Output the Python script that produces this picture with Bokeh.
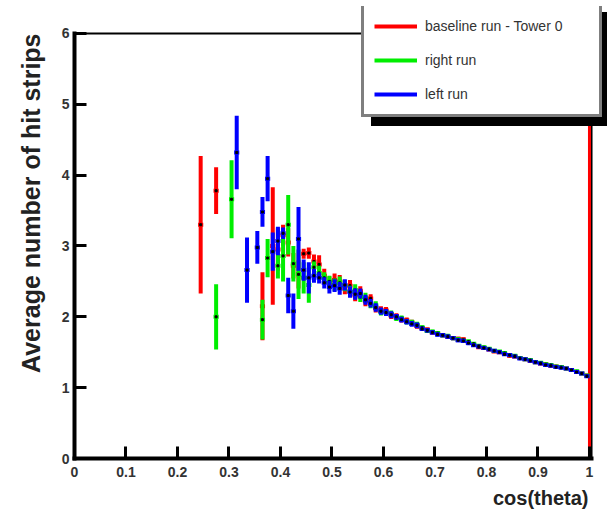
from bokeh.plotting import figure
from bokeh.models import Range1d, Legend, LegendItem, Title, ColumnDataSource
from bokeh.embed import file_html
from bokeh.resources import INLINE

# ---------------- data ----------------
bin_width = 0.01

red_head_x = [0.245, 0.275, 0.365, 0.385, 0.395, 0.405, 0.415, 0.425, 0.435, 0.445, 0.455, 0.465, 0.475, 0.485, 0.495]
red_head_y = [3.30, 3.78, 2.15, 3.00, 2.95, 3.15, 3.05, 2.72, 2.60, 2.89, 2.90, 2.78, 2.74, 2.58, 2.48]
red_head_e = [0.97, 0.33, 0.48, 0.83, 0.30, 0.15, 0.20, 0.18, 0.20, 0.07, 0.08, 0.10, 0.13, 0.10, 0.09]

green_head_x = [0.275, 0.305, 0.365, 0.375, 0.395, 0.405, 0.415, 0.425, 0.435, 0.445, 0.455, 0.465, 0.475, 0.485, 0.495]
green_head_y = [2.00, 3.66, 1.96, 2.83, 2.72, 2.86, 3.30, 2.75, 2.60, 2.55, 2.45, 2.70, 2.62, 2.55, 2.50]
green_head_e = [0.46, 0.55, 0.28, 0.27, 0.18, 0.36, 0.42, 0.25, 0.35, 0.22, 0.25, 0.08, 0.10, 0.08, 0.08]

blue_head_x = [0.315, 0.335, 0.355, 0.365, 0.375, 0.385, 0.395, 0.405, 0.415, 0.425, 0.435, 0.445, 0.455, 0.465, 0.475, 0.485, 0.495]
blue_head_y = [4.32, 2.66, 2.98, 3.48, 3.95, 2.92, 3.07, 3.18, 2.30, 2.08, 3.10, 2.66, 2.55, 2.58, 2.55, 2.48, 2.42]
blue_head_e = [0.52, 0.46, 0.23, 0.21, 0.32, 0.27, 0.20, 0.08, 0.25, 0.25, 0.45, 0.15, 0.22, 0.10, 0.08, 0.08, 0.09]

tail_x = [0.505, 0.515, 0.525, 0.535, 0.545, 0.555, 0.565, 0.575, 0.585, 0.595,
          0.605, 0.615, 0.625, 0.635, 0.645, 0.655, 0.665, 0.675, 0.685, 0.695,
          0.705, 0.715, 0.725, 0.735, 0.745, 0.755, 0.765, 0.775, 0.785, 0.795,
          0.805, 0.815, 0.825, 0.835, 0.845, 0.855, 0.865, 0.875, 0.885, 0.895,
          0.905, 0.915, 0.925, 0.935, 0.945, 0.955, 0.965, 0.975, 0.985, 0.995]

red_tail = [2.52, 2.50, 2.40, 2.44, 2.30, 2.36, 2.22, 2.26, 2.12, 2.10,
            2.09, 2.02, 2.01, 1.96, 1.95, 1.92, 1.87, 1.84, 1.82, 1.78,
            1.76, 1.74, 1.72, 1.70, 1.69, 1.68, 1.64, 1.61, 1.57, 1.56,
            1.54, 1.51, 1.50, 1.48, 1.45, 1.44, 1.42, 1.40, 1.38, 1.36,
            1.34, 1.33, 1.31, 1.30, 1.29, 1.27, 1.25, 1.22, 1.20, 1.17]

green_tail = [2.45, 2.48, 2.44, 2.36, 2.38, 2.28, 2.27, 2.18, 2.16, 2.07,
              2.06, 2.04, 1.98, 1.98, 1.93, 1.92, 1.89, 1.85, 1.80, 1.79,
              1.77, 1.74, 1.73, 1.70, 1.68, 1.66, 1.65, 1.62, 1.59, 1.57,
              1.55, 1.52, 1.51, 1.49, 1.46, 1.45, 1.42, 1.40, 1.39, 1.36,
              1.35, 1.33, 1.32, 1.30, 1.29, 1.27, 1.25, 1.23, 1.20, 1.17]

blue_tail = [2.44, 2.40, 2.45, 2.35, 2.32, 2.33, 2.24, 2.19, 2.13, 2.08,
             2.06, 2.03, 2.00, 1.96, 1.93, 1.90, 1.88, 1.83, 1.81, 1.78,
             1.75, 1.74, 1.72, 1.70, 1.67, 1.66, 1.63, 1.60, 1.58, 1.56,
             1.54, 1.52, 1.50, 1.47, 1.46, 1.44, 1.41, 1.40, 1.38, 1.36,
             1.34, 1.32, 1.31, 1.29, 1.28, 1.27, 1.25, 1.22, 1.20, 1.16]

tail_err = [0.09, 0.09, 0.08, 0.08, 0.08, 0.07, 0.07, 0.06, 0.06, 0.05,
            0.05, 0.05, 0.04, 0.04, 0.04, 0.04, 0.04, 0.03, 0.03, 0.03,
            0.03, 0.03, 0.03, 0.03, 0.03, 0.03, 0.03, 0.02, 0.02, 0.02,
            0.02, 0.02, 0.02, 0.02, 0.02, 0.02, 0.02, 0.02, 0.02, 0.02,
            0.02, 0.02, 0.02, 0.02, 0.02, 0.02, 0.02, 0.02, 0.02, 0.02]

red_edge_x = 1.0
red_edge_top = 6.0

series_names = ["baseline run - Tower 0", "right run", "left run"]
series_colors = ["#ff0000", "#00ee00", "#0000ff"]

x_ticks = [0, 0.1, 0.2, 0.3, 0.4, 0.5, 0.6, 0.7, 0.8, 0.9, 1]
y_ticks = [0, 1, 2, 3, 4, 5, 6]

# axis extents (the visible frame) and the wider drawing area that holds the legend
x_axis_end = 1.004
y_axis_end = 6.0
x_view_end = 1.035
y_view_end = 6.381

# ---------------- figure ----------------
p = figure(width=607, height=513, output_backend="svg", toolbar_location=None,
           x_range=Range1d(0, x_view_end), y_range=Range1d(0, y_view_end),
           min_border_left=74, min_border_top=6, min_border_right=0, min_border_bottom=55)

p.xgrid.visible = False
p.ygrid.visible = False
p.outline_line_color = None
p.background_fill_color = "white"
p.border_fill_color = "white"

for ax in (p.xaxis[0], p.yaxis[0]):
    ax.axis_line_width = 4
    ax.axis_line_color = "black"
    ax.axis_line_cap = "square"
    ax.major_tick_in = 12
    ax.major_tick_out = 0
    ax.minor_tick_in = 6
    ax.minor_tick_out = 0
    ax.major_tick_line_width = 3
    ax.minor_tick_line_width = 3
    ax.major_label_text_font = "Liberation Sans"
    ax.major_label_text_font_style = "bold"
    ax.major_label_text_font_size = "14px"
    ax.major_label_text_color = "#333333"

p.xaxis.bounds = (0, x_axis_end)
p.yaxis.bounds = (0, y_axis_end)
p.xaxis.ticker = x_ticks
p.yaxis.ticker = y_ticks
p.xaxis[0].ticker.num_minor_ticks = 5
p.yaxis[0].ticker.num_minor_ticks = 5
p.xaxis.major_label_overrides = {0: "0", 1: "1"}
p.xaxis.major_label_standoff = 8
p.yaxis.major_label_standoff = 5

xtitle = Title(text="cos(theta)", align="right", offset=19, standoff=10,
               text_font="Liberation Sans", text_font_style="bold",
               text_font_size="20px", text_color="#222222")
p.add_layout(xtitle, "below")
ytitle = Title(text="Average number of hit strips", align="right", offset=27, standoff=28,
               text_font="Liberation Sans", text_font_style="bold",
               text_font_size="25px", text_color="#222222")
p.add_layout(ytitle, "left")

# frame: thin top and right edges
p.line(x=[0, x_axis_end, x_axis_end], y=[y_axis_end, y_axis_end, 0], line_color="black", line_width=2)

# ---------------- data drawing ----------------
def draw(xs, ys, es, color):
    src = ColumnDataSource(dict(
        x=xs, y=ys,
        lo=[y - e for y, e in zip(ys, es)],
        hi=[y + e for y, e in zip(ys, es)],
        x0=[x - bin_width / 2 for x in xs],
        x1=[x + bin_width / 2 for x in xs],
    ))
    r = p.segment(x0="x", y0="lo", x1="x", y1="hi", source=src, line_color=color, line_width=4)
    p.segment(x0="x0", y0="y", x1="x1", y1="y", source=src, line_color=color, line_width=4)
    p.scatter(x="x", y="y", source=src, marker="square", size=2, color="black")
    return r

r_red = draw(red_head_x + tail_x, red_head_y + red_tail, red_head_e + tail_err, series_colors[0])
p.segment(x0=[red_edge_x], y0=[0], x1=[red_edge_x], y1=[red_edge_top], line_color=series_colors[0], line_width=3)
r_green = draw(green_head_x + tail_x, green_head_y + green_tail, green_head_e + tail_err, series_colors[1])
r_blue = draw(blue_head_x + tail_x, blue_head_y + blue_tail, blue_head_e + tail_err, series_colors[2])

# ---------------- legend (with shadow) ----------------
dummies = [p.segment(x0=[], y0=[], x1=[], y1=[], line_color="black", line_width=4) for _ in range(3)]

def make_legend(items, loc, bg, text_color):
    return Legend(items=items, location=loc, orientation="vertical",
                  background_fill_color=bg, background_fill_alpha=1.0,
                  border_line_color="black", border_line_width=3,
                  padding=10, spacing=14, glyph_width=43, glyph_height=20,
                  label_height=20, label_width=164, label_standoff=8,
                  label_text_font="Liberation Sans", label_text_font_size="14px",
                  label_text_color=text_color)

shadow = make_legend([LegendItem(label=" ", renderers=[d]) for d in dummies],
                     (297, 332), "black", "black")
main = make_legend([LegendItem(label=series_names[0], renderers=[r_red]),
                    LegendItem(label=series_names[1], renderers=[r_green]),
                    LegendItem(label=series_names[2], renderers=[r_blue])],
                   (287, 341), "white", "#333333")
p.add_layout(shadow, "center")
p.add_layout(main, "center")

open("out.html", "w").write(file_html(p, INLINE))
